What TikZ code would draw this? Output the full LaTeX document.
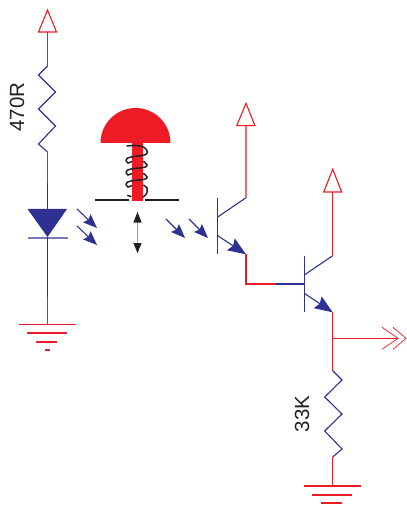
\documentclass[tikz,border=0pt]{standalone}
\usepackage{fontspec}
\setmainfont{Liberation Sans}
\usetikzlibrary{arrows.meta}
\definecolor{cred}{HTML}{ED1C24}
\definecolor{cblue}{HTML}{2E3192}
\definecolor{ctext}{HTML}{231F20}
\tikzset{
  redwire/.style={draw=cred,line width=1.1pt,line join=miter},
  bluewire/.style={draw=cblue,line width=1.1pt,line join=miter},
  supply/.style={draw=cred,line width=1.1pt,fill=white,line join=miter},
  lightray/.style={draw=cblue,line width=1.1pt,-{Stealth[length=14pt,width=11pt,inset=2pt,fill=cblue]}},
  trarrow/.style={draw=cblue,line width=1.1pt,-{Stealth[length=18pt,width=14pt,inset=2.5pt,fill=cblue]}},
  groundbar/.style={draw=cred,line width=1.2pt},
  groundthick/.style={draw=cred,line width=2pt},
  blackbar/.style={draw=ctext,line width=2pt},
  coilfront/.style={draw=ctext,line width=1.5pt,line cap=round},
  valuelabel/.style={text=ctext,font=\fontsize{20.5}{22}\selectfont,rotate=90,inner sep=0pt},
}
\begin{document}
\begin{tikzpicture}[x=1pt,y=-1pt]
\useasboundingbox (0,0) rectangle (406,510);
% named points
\coordinate (v1b) at (47.5,32);
\coordinate (v1t) at (47.5,10);
\coordinate (r1t) at (47.5,66);
\coordinate (r1b) at (47.5,152);
\coordinate (jr1) at (47.5,183);
\coordinate (ledtop) at (47.5,209);
\coordinate (ledapex) at (47.5,237);
\coordinate (jg1) at (47.5,297);
\coordinate (g1) at (47.5,324.5);
\coordinate (q1b) at (217.7,217);
\coordinate (q1e) at (217.7,235.7);
\coordinate (q1c) at (246,197.7);
\coordinate (q1x) at (246,254.3);
\coordinate (v2b) at (246,125.7);
\coordinate (lnk) at (246,284);
\coordinate (lnk2) at (276,284);
\coordinate (q2base) at (304.3,284);
\coordinate (q2b) at (304.3,275);
\coordinate (q2e) at (304.3,293.3);
\coordinate (q2c) at (332.7,255.7);
\coordinate (q2x) at (332.7,312.3);
\coordinate (v3b) at (332.7,192);
\coordinate (out) at (332.7,338.3);
\coordinate (outtip) at (398,338.3);
\coordinate (r2t) at (332.7,370.7);
\coordinate (r2b) at (332.7,457);
\coordinate (g2) at (332.7,486);
% supply 1 and resistor
\draw[redwire] (v1b) -- (r1t);
\draw[supply] (v1t) -- (56.5,32) -- (38.5,32) -- cycle;
\draw[bluewire] (r1t) -- (38.5,75) -- (55.5,92) -- (38.5,109) -- (55.5,126) -- (38.5,144) -- (r1b);
\draw[redwire] (r1b) -- (jr1);
\draw[bluewire] (jr1) -- (ledtop);
\fill[cblue] (27.5,209) -- (67,209) -- (ledapex) -- cycle;
\draw[draw=cblue!65,line width=1.3pt] (28,238) -- (68,238);
\draw[bluewire] (ledapex) -- (jg1);
\draw[redwire] (jg1) -- (g1);
\draw[groundbar] (19,324.5) -- (76,324.5);
\draw[groundthick] (27,333) -- (67,333);
\draw[groundthick] (36,342) -- (57,342);
\draw[groundthick] (45,350) -- (50,350);
\node[valuelabel] (l470) at (17,107) {470R};
% light rays
\coordinate (a1s) at (77,209); \coordinate (a1e) at (97,228);
\coordinate (a2s) at (77,226); \coordinate (a2e) at (97,245);
\coordinate (a3s) at (166,219); \coordinate (a3e) at (185,238);
\coordinate (a4s) at (189,219); \coordinate (a4e) at (208,238);
\draw[lightray] (a1s) -- (a1e);
\draw[lightray] (a2s) -- (a2e);
\draw[lightray] (a3s) -- (a3e);
\draw[lightray] (a4s) -- (a4e);
% coil parts behind the stem
\draw[coilfront] (128,163) .. controls (135,160) and (146,160) .. (147,165);
\draw[coilfront] (128,175) .. controls (135,172) and (146,172) .. (147,177);
\draw[coilfront] (128,187) .. controls (135,184) and (146,184) .. (147,188);
% plunger
\fill[cred] (100.5,143) arc[start angle=180,end angle=360,radius=35] -- cycle;
\fill[cred] (132,143) rectangle (142.5,200.7);
% coil parts in front of the stem
\draw[coilfront] (127,146) .. controls (136,144.5) and (147,146) .. (147.3,152)
  .. controls (147.5,157) and (135,155) .. (127.7,158)
  .. controls (125,160) and (126,162) .. (128,163);
\draw[coilfront] (147,165) .. controls (147.5,169) and (135,167) .. (127.7,170)
  .. controls (125,172) and (126,174) .. (128,175);
\draw[coilfront] (147,177) .. controls (147.5,181) and (135,179) .. (127.7,182)
  .. controls (125,184) and (126,186) .. (128,187);
\draw[coilfront] (147,188) .. controls (148,193) and (146,195) .. (143,197);
\draw[coilfront] (127.7,195.5) -- (131,196.5);
% contacts and travel arrow
\draw[blackbar] (95,200) -- (129,200);
\draw[blackbar] (145,200) -- (179,200);
\coordinate (tt) at (137.5,212); \coordinate (tb) at (137.5,253);
\draw[draw=black!40,line width=0.9pt] (tt) -- (tb);
\fill[ctext] (tt) -- (141.7,222.6) -- (133.3,222.6) -- cycle;
\fill[ctext] (tb) -- (141.7,243) -- (133.3,243) -- cycle;
% transistor 1
\draw[bluewire] (217.7,197.7) -- (217.7,254);
\draw[bluewire] (q1b) -- (q1c);
\draw[trarrow] (q1e) -- (q1x);
\draw[draw=cred!65,line width=1.6pt] (q1c) -- (v2b);
\draw[supply] (246,103.3) -- (255,125.7) -- (236.7,125.7) -- cycle;
\draw[redwire] (q1x) -- (lnk) -- (lnk2);
\draw[bluewire] (lnk2) -- (q2base);
% transistor 2
\draw[bluewire] (304.3,255.7) -- (304.3,312.3);
\draw[bluewire] (q2b) -- (q2c);
\draw[trarrow] (q2e) -- (q2x);
\draw[redwire] (q2c) -- (v3b);
\draw[supply] (332.7,169.3) -- (341.7,192) -- (323.7,192) -- cycle;
% output
\draw[redwire] (q2x) -- (r2t);
\draw[redwire] (out) -- (outtip);
\draw[draw=cred,line width=0.7pt] (382,327.3) -- (outtip) -- (382,349.3);
\draw[draw=cred,line width=0.7pt] (393,327.3) -- (406,338.3) -- (393,349.3);
% resistor 2
\draw[bluewire] (r2t) -- (342,380) -- (324.7,397) -- (342,414) -- (324.7,431) -- (342,449) -- (r2b);
\draw[redwire] (r2b) -- (g2);
\draw[groundbar] (304,486) -- (361,486);
\draw[groundthick] (312,494.7) -- (352,494.7);
\draw[groundthick] (321,502.7) -- (342,502.7);
\node[valuelabel] (l33k) at (302,414) {33K};
\end{tikzpicture}
\end{document}
